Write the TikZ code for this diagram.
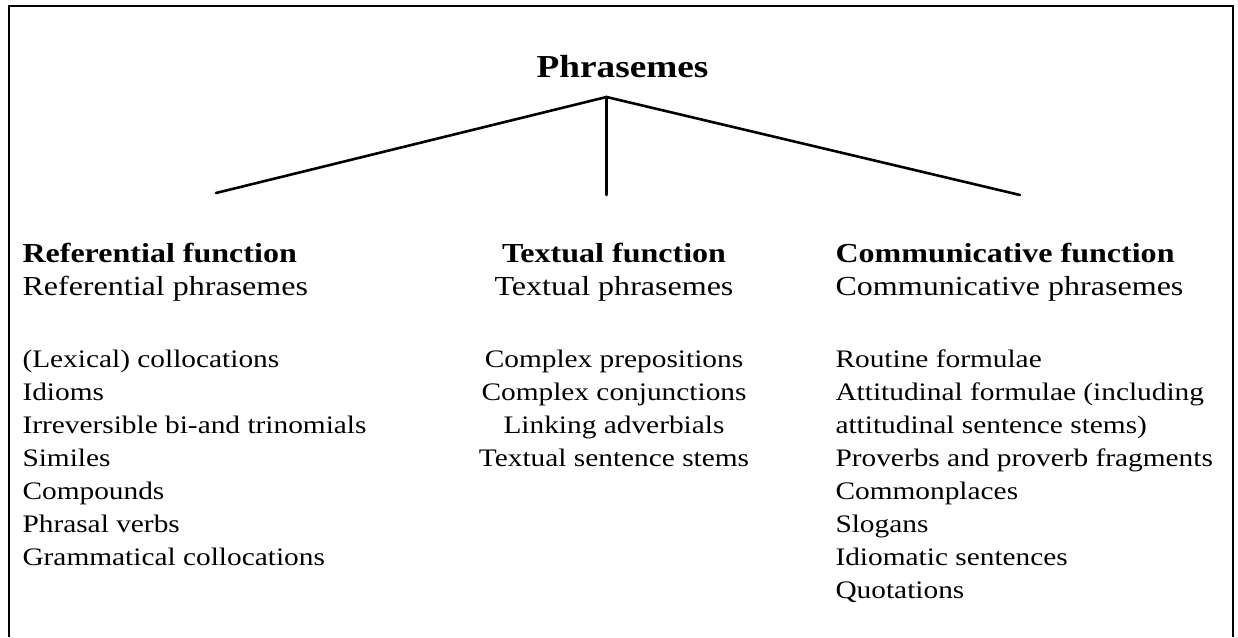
\documentclass[tikz,border=0pt]{standalone}
\usepackage{fontspec}
\setmainfont{Liberation Serif}
\usepackage{graphicx}
\newcommand\widen[1]{\scalebox{1.165}[1]{#1}}
\begin{document}
\begin{tikzpicture}[x=1pt,y=-1pt,
  every node/.style={inner sep=0pt, outer sep=0pt},
  branch/.style={line width=2.6pt, line cap=round},
  frameline/.style={line width=2pt},
  headtext/.style={font=\fontsize{27.5}{33}\selectfont},
  listtext/.style={font=\fontsize{25.2}{33}\selectfont},
  titletext/.style={font=\fontsize{32}{38}\selectfont\bfseries}]
\useasboundingbox (0,0) rectangle (1238,637);

% open frame (no bottom edge)
\draw[frameline] (8.5,637) -- (8.5,6) -- (1233,6) -- (1233,637);

% title and branching lines
\node[titletext, anchor=base] (title) at (622.5,77) {\widen{Phrasemes}};
\coordinate (apex) at (606.5,97);
\coordinate (endL) at (216,193);
\coordinate (endM) at (606.5,195);
\coordinate (endR) at (1020,195);
\draw[branch] (endL) -- (apex) -- (endR);
\draw[branch] (apex) -- (endM);

% referential column
\node[headtext, anchor=base west] (refhead) at (22.5,262) {\widen{%
  \begin{tabular}[t]{@{}l@{}}
  \textbf{Referential function}\\
  Referential phrasemes
  \end{tabular}}};
\node[listtext, anchor=base west] (reflist) at (22.5,367) {\widen{%
  \begin{tabular}[t]{@{}l@{}}
  (Lexical) collocations\\
  Idioms\\
  Irreversible bi-and trinomials\\
  Similes\\
  Compounds\\
  Phrasal verbs\\
  Grammatical collocations
  \end{tabular}}};

% textual column
\node[headtext, anchor=base] (txthead) at (614,262) {\widen{%
  \begin{tabular}[t]{@{}c@{}}
  \textbf{Textual function}\\
  Textual phrasemes
  \end{tabular}}};
\node[listtext, anchor=base] (txtlist) at (614,367) {\widen{%
  \begin{tabular}[t]{@{}c@{}}
  Complex prepositions\\
  Complex conjunctions\\
  Linking adverbials\\
  Textual sentence stems
  \end{tabular}}};

% communicative column
\node[headtext, anchor=base west] (comhead) at (835.5,262) {\widen{%
  \begin{tabular}[t]{@{}l@{}}
  \textbf{Communicative function}\\
  Communicative phrasemes
  \end{tabular}}};
\node[listtext, anchor=base west] (comlist) at (835.5,367) {\widen{%
  \begin{tabular}[t]{@{}l@{}}
  Routine formulae\\
  Attitudinal formulae (including\\
  attitudinal sentence stems)\\
  Proverbs and proverb fragments\\
  Commonplaces\\
  Slogans\\
  Idiomatic sentences\\
  Quotations
  \end{tabular}}};
\end{tikzpicture}
\end{document}
